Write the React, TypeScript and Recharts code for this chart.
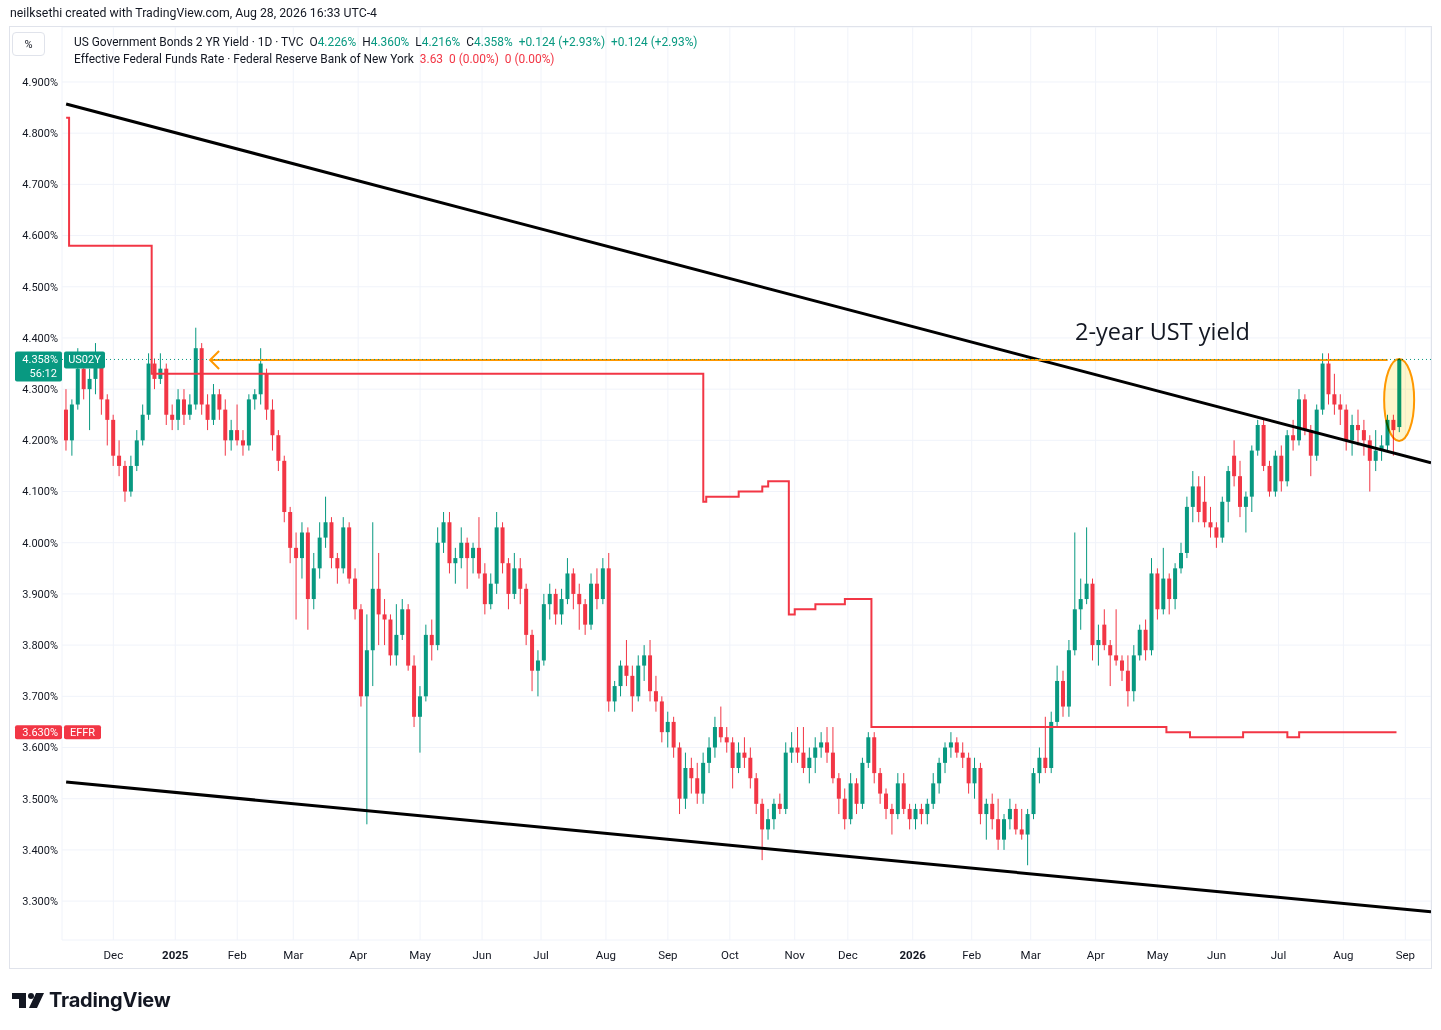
import {
  ComposedChart,
  Bar,
  Line,
  XAxis,
  YAxis,
  CartesianGrid,
  ReferenceLine,
  ReferenceDot,
} from 'recharts';

const FONT = 'Roboto, "Noto Sans", sans-serif';
const GREEN = '#089981';
const RED = '#f23645';
const ORANGE = '#ff9800';
const INK = '#131722';

// time scale: trading-day index where each month label sits
const monthTicks = [16, 37, 58, 77, 99, 120, 141, 161, 183, 204, 225, 247, 265, 287, 307, 327, 349, 370, 390, 411, 433, 454];
const monthLabels = ['Dec', '2025', 'Feb', 'Mar', 'Apr', 'May', 'Jun', 'Jul', 'Aug', 'Sep', 'Oct', 'Nov', 'Dec', '2026', 'Feb', 'Mar', 'Apr', 'May', 'Jun', 'Jul', 'Aug', 'Sep'];
const yearLabels = ['2025', '2026'];

const priceTicks = [3.3, 3.4, 3.5, 3.6, 3.7, 3.8, 3.9, 4.0, 4.1, 4.2, 4.3, 4.4, 4.5, 4.6, 4.7, 4.8, 4.9];

// US02Y, one [open, high, low, close] per two sessions
const ohlcLate2024 = [
  [4.26, 4.3, 4.18, 4.2], [4.2, 4.28, 4.17, 4.27], [4.27, 4.38, 4.26, 4.34], [4.34, 4.37, 4.28, 4.3],
  [4.3, 4.34, 4.22, 4.32], [4.32, 4.39, 4.29, 4.35], [4.35, 4.36, 4.25, 4.28], [4.28, 4.29, 4.19, 4.24],
  [4.24, 4.25, 4.15, 4.17], [4.17, 4.2, 4.13, 4.15], [4.15, 4.16, 4.08, 4.1], [4.1, 4.17, 4.09, 4.15],
  [4.15, 4.22, 4.14, 4.2], [4.2, 4.27, 4.19, 4.25], [4.25, 4.37, 4.24, 4.35], [4.35, 4.36, 4.3, 4.32],
  [4.32, 4.37, 4.31, 4.34], [4.34, 4.35, 4.23, 4.25], [4.25, 4.27, 4.22, 4.24],
];
const ohlcQ1_2025 = [
  [4.24, 4.3, 4.22, 4.28], [4.28, 4.3, 4.23, 4.25], [4.25, 4.29, 4.24, 4.27], [4.27, 4.42, 4.26, 4.38],
  [4.38, 4.39, 4.25, 4.27], [4.27, 4.29, 4.22, 4.24], [4.24, 4.31, 4.23, 4.29], [4.29, 4.3, 4.24, 4.26],
  [4.26, 4.28, 4.17, 4.2], [4.2, 4.24, 4.18, 4.22], [4.22, 4.27, 4.19, 4.2], [4.2, 4.22, 4.17, 4.19],
  [4.19, 4.29, 4.18, 4.28], [4.28, 4.3, 4.26, 4.29], [4.29, 4.38, 4.27, 4.35], [4.33, 4.34, 4.24, 4.26],
  [4.26, 4.28, 4.18, 4.21], [4.21, 4.22, 4.14, 4.16], [4.16, 4.17, 4.04, 4.06], [4.06, 4.07, 3.96, 3.99],
  [3.99, 4.02, 3.85, 3.97], [3.97, 4.04, 3.93, 4.02], [4.02, 4.03, 3.83, 3.89], [3.89, 3.98, 3.87, 3.95],
  [3.95, 4.04, 3.93, 4.01], [4.01, 4.09, 3.99, 4.04], [4.04, 4.05, 3.95, 3.97], [3.97, 3.98, 3.92, 3.95],
  [3.95, 4.05, 3.94, 4.03], [4.03, 4.04, 3.92, 3.93], [3.93, 3.95, 3.85, 3.87],
];
const ohlcQ2_2025 = [
  [3.87, 3.88, 3.68, 3.7], [3.7, 3.86, 3.45, 3.79], [3.79, 4.04, 3.72, 3.91], [3.91, 3.98, 3.8, 3.86],
  [3.86, 3.89, 3.8, 3.85], [3.85, 3.86, 3.76, 3.78], [3.78, 3.88, 3.76, 3.82], [3.82, 3.89, 3.81, 3.87],
  [3.87, 3.88, 3.75, 3.76], [3.76, 3.78, 3.64, 3.66], [3.66, 3.72, 3.59, 3.7], [3.7, 3.84, 3.69, 3.82],
  [3.82, 3.85, 3.77, 3.8], [3.8, 4.03, 3.79, 4.0], [4.0, 4.06, 3.98, 4.04], [4.04, 4.06, 3.94, 3.96],
  [3.96, 3.99, 3.92, 3.97], [3.97, 4.03, 3.95, 4.0], [4.0, 4.01, 3.91, 3.97], [3.97, 4.0, 3.94, 3.99],
  [3.99, 4.05, 3.93, 3.94], [3.94, 3.96, 3.86, 3.88], [3.88, 3.94, 3.87, 3.92], [3.92, 4.06, 3.9, 4.03],
  [4.03, 4.04, 3.94, 3.96], [3.96, 3.97, 3.87, 3.9], [3.9, 3.98, 3.89, 3.95], [3.95, 3.97, 3.88, 3.91],
  [3.91, 3.92, 3.8, 3.82], [3.82, 3.83, 3.71, 3.75], [3.75, 3.79, 3.7, 3.77],
];
const ohlcQ3_2025 = [
  [3.77, 3.9, 3.76, 3.88], [3.88, 3.92, 3.85, 3.9], [3.9, 3.91, 3.84, 3.86], [3.86, 3.91, 3.84, 3.89],
  [3.89, 3.97, 3.88, 3.94], [3.94, 3.95, 3.87, 3.9], [3.9, 3.92, 3.83, 3.88], [3.88, 3.89, 3.82, 3.84],
  [3.84, 3.94, 3.83, 3.92], [3.92, 3.95, 3.87, 3.89], [3.89, 3.97, 3.88, 3.95], [3.95, 3.98, 3.67, 3.69],
  [3.69, 3.73, 3.67, 3.72], [3.72, 3.77, 3.7, 3.76], [3.76, 3.81, 3.72, 3.74], [3.74, 3.76, 3.67, 3.7],
  [3.7, 3.78, 3.69, 3.76], [3.76, 3.8, 3.73, 3.78], [3.78, 3.81, 3.69, 3.71], [3.71, 3.74, 3.67, 3.69],
  [3.69, 3.7, 3.61, 3.63], [3.63, 3.67, 3.6, 3.65], [3.65, 3.66, 3.58, 3.6], [3.6, 3.61, 3.47, 3.5],
  [3.5, 3.59, 3.48, 3.56], [3.56, 3.58, 3.51, 3.54], [3.54, 3.57, 3.49, 3.51], [3.51, 3.59, 3.49, 3.57],
  [3.57, 3.62, 3.55, 3.6], [3.6, 3.66, 3.58, 3.64], [3.64, 3.68, 3.61, 3.62], [3.62, 3.64, 3.59, 3.61],
];
const ohlcQ4_2025 = [
  [3.61, 3.62, 3.52, 3.56], [3.56, 3.61, 3.55, 3.59], [3.59, 3.62, 3.56, 3.58], [3.58, 3.6, 3.52, 3.54],
  [3.54, 3.55, 3.47, 3.49], [3.49, 3.5, 3.38, 3.44], [3.44, 3.48, 3.42, 3.46], [3.46, 3.5, 3.44, 3.49],
  [3.49, 3.51, 3.47, 3.48], [3.48, 3.61, 3.47, 3.59], [3.59, 3.63, 3.57, 3.6], [3.6, 3.64, 3.57, 3.59],
  [3.59, 3.64, 3.55, 3.56], [3.56, 3.6, 3.53, 3.58], [3.58, 3.62, 3.55, 3.6], [3.6, 3.63, 3.58, 3.61],
  [3.61, 3.64, 3.57, 3.59], [3.59, 3.64, 3.53, 3.54], [3.54, 3.55, 3.47, 3.5], [3.5, 3.52, 3.44, 3.46],
  [3.46, 3.55, 3.45, 3.53], [3.53, 3.54, 3.47, 3.49], [3.49, 3.58, 3.48, 3.57], [3.57, 3.63, 3.56, 3.62],
  [3.62, 3.63, 3.53, 3.55], [3.55, 3.56, 3.49, 3.51], [3.51, 3.52, 3.46, 3.48], [3.48, 3.49, 3.43, 3.47],
  [3.47, 3.55, 3.46, 3.53], [3.53, 3.55, 3.47, 3.48], [3.48, 3.49, 3.44, 3.46],
];
const ohlcQ1_2026 = [
  [3.46, 3.49, 3.44, 3.48], [3.48, 3.49, 3.45, 3.47], [3.47, 3.5, 3.45, 3.49], [3.49, 3.55, 3.48, 3.53],
  [3.53, 3.58, 3.51, 3.57], [3.57, 3.61, 3.55, 3.6], [3.6, 3.63, 3.58, 3.61], [3.61, 3.62, 3.58, 3.59],
  [3.59, 3.61, 3.56, 3.58], [3.58, 3.59, 3.51, 3.53], [3.53, 3.58, 3.5, 3.56], [3.56, 3.57, 3.45, 3.47],
  [3.47, 3.5, 3.42, 3.49], [3.49, 3.51, 3.44, 3.46], [3.46, 3.5, 3.4, 3.42], [3.42, 3.47, 3.4, 3.46],
  [3.46, 3.5, 3.44, 3.48], [3.48, 3.49, 3.43, 3.44], [3.44, 3.48, 3.42, 3.43], [3.43, 3.48, 3.37, 3.47],
  [3.47, 3.56, 3.46, 3.55], [3.55, 3.6, 3.53, 3.58], [3.58, 3.66, 3.55, 3.56], [3.56, 3.67, 3.55, 3.65],
  [3.65, 3.76, 3.64, 3.73], [3.73, 3.75, 3.66, 3.68], [3.68, 3.81, 3.66, 3.79], [3.79, 4.02, 3.78, 3.87],
  [3.87, 3.93, 3.83, 3.89], [3.89, 4.03, 3.88, 3.92], [3.92, 3.93, 3.77, 3.8],
];
const ohlcQ2_2026 = [
  [3.8, 3.84, 3.76, 3.81], [3.84, 3.87, 3.79, 3.8], [3.8, 3.81, 3.72, 3.78], [3.78, 3.87, 3.76, 3.77],
  [3.77, 3.78, 3.73, 3.75], [3.75, 3.78, 3.68, 3.71], [3.71, 3.8, 3.69, 3.78], [3.78, 3.84, 3.77, 3.83],
  [3.83, 3.85, 3.77, 3.79], [3.79, 3.97, 3.78, 3.94], [3.94, 3.95, 3.85, 3.87], [3.87, 3.99, 3.86, 3.93],
  [3.93, 3.94, 3.86, 3.89], [3.89, 3.96, 3.87, 3.95], [3.95, 4.0, 3.94, 3.98], [3.98, 4.09, 3.97, 4.07],
  [4.07, 4.14, 4.04, 4.11], [4.11, 4.13, 4.04, 4.06], [4.08, 4.13, 4.03, 4.04], [4.04, 4.07, 4.01, 4.03],
  [4.03, 4.04, 3.99, 4.01], [4.01, 4.09, 4.0, 4.08], [4.08, 4.15, 4.04, 4.14], [4.17, 4.2, 4.11, 4.13],
  [4.13, 4.16, 4.05, 4.07], [4.07, 4.1, 4.02, 4.09], [4.09, 4.19, 4.06, 4.18], [4.18, 4.24, 4.17, 4.23],
  [4.23, 4.24, 4.14, 4.15], [4.15, 4.16, 4.09, 4.1], [4.1, 4.18, 4.09, 4.17],
];
const ohlcQ3_2026 = [
  [4.17, 4.19, 4.1, 4.12], [4.12, 4.22, 4.11, 4.21], [4.21, 4.24, 4.18, 4.2], [4.2, 4.3, 4.19, 4.28],
  [4.28, 4.29, 4.21, 4.22], [4.22, 4.23, 4.13, 4.17], [4.17, 4.27, 4.16, 4.26], [4.26, 4.37, 4.25, 4.35],
  [4.35, 4.37, 4.27, 4.29], [4.29, 4.33, 4.25, 4.27], [4.27, 4.29, 4.23, 4.26], [4.26, 4.27, 4.18, 4.2],
  [4.2, 4.25, 4.17, 4.23], [4.23, 4.26, 4.19, 4.22], [4.22, 4.24, 4.17, 4.2], [4.2, 4.21, 4.1, 4.16],
  [4.16, 4.22, 4.14, 4.18], [4.18, 4.21, 4.16, 4.19], [4.19, 4.25, 4.18, 4.24], [4.24, 4.25, 4.17, 4.22],
  [4.226, 4.36, 4.216, 4.358],
];

// EFFR, [trading day, rate] at each change
const effrChanges = [
  [0, 4.83], [1, 4.58], [29, 4.33], [216, 4.08], [217, 4.09], [228, 4.1], [236, 4.11], [238, 4.12],
  [245, 3.86], [247, 3.87], [254, 3.88], [264, 3.89], [273, 3.64], [373, 3.63], [381, 3.62],
  [399, 3.63], [414, 3.62], [418, 3.63], [451, 3.63],
];

// drawn trendlines, [day, yield] at each end
const upperTrend = [[0, 4.857], [462.7, 4.156]];
const lowerTrend = [[0, 3.5325], [462.7, 3.279]];
const resistance = { from: 48.8, to: 448, level: 4.357 };
const highlight = { day: 451.9, level: 4.279 };
const note = { day: 342, level: 4.414, text: '2-year UST yield' };

const legendChange = '+0.124 (+2.93%)';
const barCountdown = '56:12';

const candles = [
  ...ohlcLate2024, ...ohlcQ1_2025, ...ohlcQ2_2025, ...ohlcQ3_2025,
  ...ohlcQ4_2025, ...ohlcQ1_2026, ...ohlcQ2_2026, ...ohlcQ3_2026,
].map(([o, h, l, c], i) => ({ day: i * 2, o, h, l, c }));

const effr = effrChanges.map(([day, rate]) => ({ day, rate }));
const last = candles[candles.length - 1];
const lastRate = effrChanges[effrChanges.length - 1][1];

function Candle(props: any) {
  const { x, y, width, height, payload } = props;
  if (!payload || !Number.isFinite(y) || !Number.isFinite(x)) return null;
  const top = Math.min(y, y + height);
  const bottom = Math.max(y, y + height);
  const span = payload.h - payload.l || 1;
  const px = (v: number) => top + ((payload.h - v) / span) * (bottom - top);
  const cx = x + width / 2;
  const color = payload.c >= payload.o ? GREEN : RED;
  const bTop = px(Math.max(payload.o, payload.c));
  const bBot = px(Math.min(payload.o, payload.c));
  return (
    <g>
      <line x1={cx} x2={cx} y1={top} y2={bottom} stroke={color} strokeWidth={1} />
      <rect x={cx - 2} y={bTop} width={4} height={Math.max(1, bBot - bTop)} fill={color} />
    </g>
  );
}

function MonthTick({ x, y, payload }: any) {
  const label = monthLabels[monthTicks.indexOf(payload.value)] ?? '';
  const bold = yearLabels.includes(label);
  return (
    <text x={x} y={y} dy="0.71em" textAnchor="middle" fontSize={11.5} fontWeight={bold ? 700 : 400} fill={INK} fontFamily={FONT}>
      {label}
    </text>
  );
}

function PriceTag({ viewBox }: any) {
  if (!viewBox) return null;
  const left = viewBox.x;
  const y = viewBox.y;
  return (
    <g fontFamily={FONT} fontSize={11} fill="#fff">
      <rect x={left - 47} y={y - 8} width={47} height={30} rx={2} fill={GREEN} />
      <text x={left - 4} y={y + 0.5} dominantBaseline="central" textAnchor="end">{last.c.toFixed(3)}%</text>
      <text x={left - 5} y={y + 14} dominantBaseline="central" textAnchor="end">{barCountdown}</text>
      <rect x={left + 2} y={y - 8} width={41} height={17} rx={2} fill={GREEN} />
      <text x={left + 22.5} y={y + 0.5} dominantBaseline="central" textAnchor="middle">US02Y</text>
    </g>
  );
}

function EffrTag({ viewBox }: any) {
  if (!viewBox) return null;
  const left = viewBox.x;
  const y = viewBox.y;
  return (
    <g fontFamily={FONT} fontSize={11} fill="#fff">
      <rect x={left - 47} y={y - 7} width={47} height={14} rx={2} fill={RED} />
      <text x={left - 4} y={y + 0.5} dominantBaseline="central" textAnchor="end">{lastRate.toFixed(3)}%</text>
      <rect x={left + 2} y={y - 7} width={37} height={14} rx={2} fill={RED} />
      <text x={left + 20.5} y={y + 0.5} dominantBaseline="central" textAnchor="middle">EFFR</text>
    </g>
  );
}

function Chevron({ cx, cy }: any) {
  return <polyline points={`${cx + 9},${cy - 9} ${cx},${cy} ${cx + 9},${cy + 9}`} fill="none" stroke={ORANGE} strokeWidth={2} />;
}

function Oval({ cx, cy }: any) {
  return (
    <ellipse
      cx={cx}
      cy={cy}
      rx={15}
      ry={41}
      fill="#fff6cc"
      stroke={ORANGE}
      strokeWidth={2}
      style={{ mixBlendMode: 'multiply' }}
    />
  );
}

function Note({ cx, cy }: any) {
  return (
    <text x={cx} y={cy} dominantBaseline="central" fontSize={23.5} fill={INK} fontFamily='"Open Sans", sans-serif'>
      {note.text}
    </text>
  );
}

function Logo() {
  return (
    <div style={{ position: 'absolute', left: 12, top: 988, display: 'flex', alignItems: 'center', gap: 5 }}>
      <svg width={32} height={20} viewBox="0 0 32 20">
        <rect x={0} y={3} width={14} height={6} fill={INK} />
        <rect x={7} y={3} width={7} height={15} fill={INK} />
        <circle cx={19} cy={6} r={3} fill={INK} />
        <polygon points="24,3 32,3 25,18 17,18" fill={INK} />
      </svg>
      <span style={{ fontFamily: 'Inter, sans-serif', fontWeight: 700, fontSize: 20, color: INK, letterSpacing: -0.2 }}>TradingView</span>
    </div>
  );
}

const legendRow: React.CSSProperties = { display: 'flex', gap: 6, whiteSpace: 'nowrap', height: 17, alignItems: 'center' };

export default function App() {
  return (
    <div style={{ position: 'absolute', left: 0, top: 0, width: 1441, height: 1030, background: '#fff', fontFamily: FONT, color: INK, overflow: 'hidden' }}>
      <div style={{ position: 'absolute', left: 10, top: 6, fontSize: 12.3 }}>
        neilksethi created with TradingView.com, Aug 28, 2026 16:33 UTC-4
      </div>

      <div style={{ position: 'absolute', left: 10, top: 27 }}>
        <ComposedChart width={1421} height={941} data={candles} margin={{ top: 0, right: 0, bottom: 0, left: 0 }}>
          <CartesianGrid stroke="#f0f3fa" />
          <XAxis
            type="number"
            dataKey="day"
            domain={[-1.4, 462.7]}
            allowDataOverflow
            ticks={monthTicks}
            tick={<MonthTick />}
            tickLine={false}
            axisLine={false}
            tickSize={0}
            tickMargin={11}
            height={28}
            interval={0}
          />
          <YAxis
            type="number"
            domain={[3.224, 5.0074]}
            allowDataOverflow
            ticks={priceTicks}
            tickFormatter={(v: number) => `${v.toFixed(3)}%`}
            tick={{ fontSize: 11, fill: INK, fontFamily: FONT }}
            tickLine={false}
            axisLine={false}
            tickSize={0}
            tickMargin={4}
            width={52}
            interval={0}
          />
          <Bar dataKey={(d: any) => [d.l, d.h]} barSize={4} shape={<Candle />} isAnimationActive={false} />
          <Line
            data={effr}
            dataKey="rate"
            type="stepAfter"
            stroke={RED}
            strokeWidth={2}
            dot={false}
            activeDot={false}
            isAnimationActive={false}
          />
          <ReferenceLine
            segment={upperTrend.map(([x, y]) => ({ x, y }))}
            stroke="#000"
            strokeWidth={3}
            ifOverflow="visible"
          />
          <ReferenceLine
            segment={lowerTrend.map(([x, y]) => ({ x, y }))}
            stroke="#000"
            strokeWidth={3}
            ifOverflow="visible"
          />
          <ReferenceLine
            segment={[{ x: resistance.from, y: resistance.level }, { x: resistance.to, y: resistance.level }]}
            stroke={ORANGE}
            strokeWidth={2}
          />
          <ReferenceDot x={resistance.from} y={resistance.level} shape={<Chevron />} />
          <ReferenceDot x={highlight.day} y={highlight.level} shape={<Oval />} />
          <ReferenceDot x={note.day} y={note.level} shape={<Note />} />
          <ReferenceLine y={lastRate} stroke="none" label={(p: any) => <EffrTag viewBox={p.viewBox} />} />
          <ReferenceLine
            y={last.c}
            stroke={GREEN}
            strokeDasharray="1 3"
            label={(p: any) => <PriceTag viewBox={p.viewBox} />}
          />
        </ComposedChart>
      </div>

      <div style={{ position: 'absolute', left: 9, top: 26, width: 1423, height: 943, border: '1px solid #e0e3eb', boxSizing: 'border-box', pointerEvents: 'none' }} />

      <div style={{ position: 'absolute', left: 12, top: 32, width: 33, height: 24, border: '1px solid #e0e3eb', borderRadius: 4, boxSizing: 'border-box', background: '#fff', display: 'flex', alignItems: 'center', justifyContent: 'center', fontSize: 11 }}>
        %
      </div>

      <div style={{ position: 'absolute', left: 74, top: 33, fontSize: 11.9 }}>
        <div style={legendRow}>
          <span>US Government Bonds 2 YR Yield · 1D · TVC</span>
          <span>O<span style={{ color: GREEN }}>{last.o.toFixed(3)}%</span></span>
          <span>H<span style={{ color: GREEN }}>{last.h.toFixed(3)}%</span></span>
          <span>L<span style={{ color: GREEN }}>{last.l.toFixed(3)}%</span></span>
          <span>C<span style={{ color: GREEN }}>{last.c.toFixed(3)}%</span></span>
          <span style={{ color: GREEN }}>{legendChange}</span>
          <span style={{ color: GREEN }}>{legendChange}</span>
        </div>
        <div style={legendRow}>
          <span>Effective Federal Funds Rate · Federal Reserve Bank of New York</span>
          <span style={{ color: RED }}>{lastRate.toFixed(2)}</span>
          <span style={{ color: RED }}>0 (0.00%)</span>
          <span style={{ color: RED }}>0 (0.00%)</span>
        </div>
      </div>

      <Logo />
    </div>
  );
}
